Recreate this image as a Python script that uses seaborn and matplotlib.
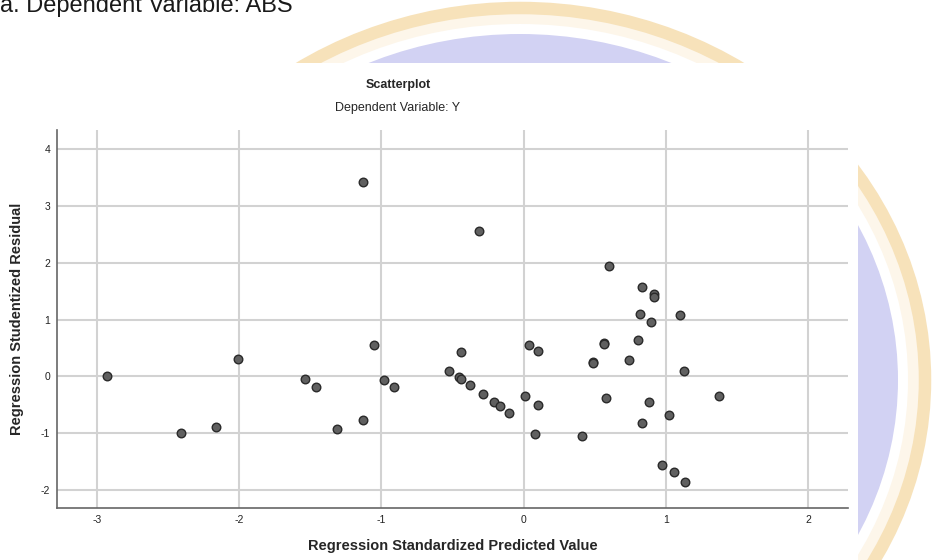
import numpy as np
import pandas as pd
import matplotlib
matplotlib.use("Agg")
import matplotlib.pyplot as plt
from matplotlib.patches import Ellipse, Rectangle
import seaborn as sns

pred = [-2.93, -2.41, -2.16, -2.01, -1.54, -1.46, -1.127, -1.31, -1.127, -1.05,
        -0.98, -0.91, -0.315, -0.525, -0.44, -0.455, -0.437, -0.376, -0.287, -0.207,
        -0.163, -0.10, 0.008, 0.04, 0.10, 0.104, 0.083, 0.413, 0.486, 0.49,
        0.60, 0.834, 0.914, 0.914, 0.818, 1.10, 0.895, 0.565, 0.568, 0.806,
        0.739, 1.125, 1.373, 0.58, 0.881, 1.024, 0.832, 0.975, 1.059, 1.132]
resid = [0.0, -0.99, -0.89, 0.31, -0.05, -0.18, 3.42, -0.92, -0.77, 0.55,
         -0.06, -0.18, 2.56, 0.10, 0.42, -0.02, -0.05, -0.16, -0.31, -0.46,
         -0.52, -0.65, -0.35, 0.55, 0.44, -0.51, -1.02, -1.06, 0.25, 0.24,
         1.95, 1.58, 1.45, 1.40, 1.09, 1.08, 0.96, 0.58, 0.57, 0.635,
         0.28, 0.09, -0.35, -0.39, -0.45, -0.69, -0.83, -1.56, -1.69, -1.86]
x_ticks = [-3, -2, -1, 0, 1, 2]
y_ticks = [-2, -1, 0, 1, 2, 3, 4]

df = pd.DataFrame({"pred": pred, "resid": resid})

sns.set_style("white")
plt.rcParams['font.family'] = ['Liberation Sans', 'DejaVu Sans']
plt.rcParams['axes.unicode_minus'] = False

W, H = 936, 560
fig = plt.figure(figsize=(W / 100, H / 100), dpi=100)

# pixel coords -> figure fraction
def fx(px):
    return px / W

def fy(py):
    return 1 - py / H

# faded logo watermark of the page, behind the pasted chart
cx, cy = fx(520), fy(380)
logo_out = Ellipse((cx, cy), 2 * 405 / W, 2 * 372 / H, transform=fig.transFigure,
                   facecolor="#fdf6ea", edgecolor="#f7e2ba", lw=9, zorder=0)
logo_mid = Ellipse((cx, cy), 2 * 388 / W, 2 * 356 / H, transform=fig.transFigure,
                   facecolor="#ffffff", edgecolor="none", zorder=0)
logo_in = Ellipse((cx, cy), 2 * 378 / W, 2 * 346 / H, transform=fig.transFigure,
                  facecolor="#d2d2f3", edgecolor="none", zorder=0)
for p in (logo_out, logo_mid, logo_in):
    fig.patches.append(p)

# white area of the pasted SPSS output
fig.patches.append(Rectangle((0, 0), fx(858), fy(63), transform=fig.transFigure,
                             facecolor="white", edgecolor="none", zorder=1))

# clipped footnote from the table above
fig.text(0.0, fy(12), "a. Dependent Variable: ABS", fontsize=17, color="#1a1a1a",
         ha="left", va="baseline")

ax = fig.add_axes([fx(57), fy(508), (848 - 57) / W, (508 - 130) / H])
ax.set_zorder(2)
ax.patch.set_alpha(0)

sns.scatterplot(data=df, x="pred", y="resid", ax=ax, s=38, color="#606060",
                edgecolor="#2a2a2a", linewidth=1.0, zorder=3)

ax.set_xlim(-3.28, 2.28)
ax.set_ylim(-2.32, 4.34)
ax.set_xticks(x_ticks)
ax.set_yticks(y_ticks)
ax.grid(True, color="#d2d2d2", lw=1.5)
ax.set_axisbelow(True)
for side in ("top", "right"):
    ax.spines[side].set_visible(False)
for side in ("left", "bottom"):
    ax.spines[side].set_color("#666666")
    ax.spines[side].set_linewidth(1.2)
ax.tick_params(axis="both", labelsize=7.5, colors="#222222", length=2, width=0.8,
               color="#999999", pad=3)

ax.set_xlabel("Regression Standardized Predicted Value", fontsize=10.5,
              fontweight="bold", labelpad=10)
ax.set_ylabel("Regression Studentized Residual", fontsize=10.5,
              fontweight="bold", labelpad=12)

fig.text(fx(398), fy(85), "Scatterplot", fontsize=9, fontweight="bold",
         ha="center", va="center", zorder=3)
fig.text(fx(398), fy(108), "Dependent Variable: Y", fontsize=9,
         ha="center", va="center", zorder=3)

fig.savefig("out.png", dpi=100)
